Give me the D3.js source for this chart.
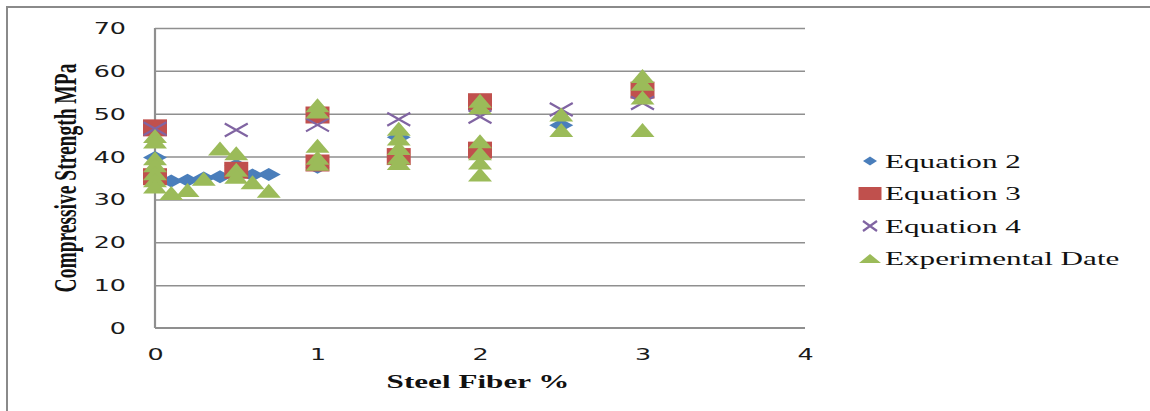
<!DOCTYPE html>
<html>
<head>
<meta charset="utf-8">
<script src="https://cdn.jsdelivr.net/npm/d3@7"></script>
<style>
  html, body { margin: 0; padding: 0; background: #fff; }
  svg { display: block; }
</style>
</head>
<body>
<svg id="chart" width="1150" height="411"></svg>
<script>
// Steel fiber content (%) and compressive strength (MPa) per series
const eq2X = [0, 0.1, 0.2, 0.3, 0.4, 0.5, 0.6, 0.7, 1, 1.5, 2, 2.5, 3];
const eq2Y = [39.8, 34.3, 34.5, 35, 35.3, 38, 35.7, 35.8, 37.5, 44.5, 41, 47.3, 54];

const eq3X = [0, 0, 0.5, 1, 1, 1.5, 2, 2, 3];
const eq3Y = [46.7, 35.3, 36.8, 49.7, 38.5, 40, 52.8, 41.5, 55.5];

const eq4X = [0, 0.5, 1, 1.5, 2, 2.5, 3];
const eq4Y = [46.5, 46.2, 47.4, 48.7, 49.3, 51, 52.5];

const expX = [0, 0, 0, 0, 0, 0, 0, 0.1, 0.2, 0.3, 0.4, 0.5, 0.5, 0.5, 0.6, 0.7,
              1, 1, 1, 1, 1, 1.5, 1.5, 1.5, 1.5, 1.5, 2, 2, 2, 2, 2, 2, 2.5, 2.5,
              3, 3, 3, 3];
const expY = [44.8, 43.5, 39.6, 38, 36.1, 34.5, 33, 31.5, 32.2, 34.8, 41.9, 40.8, 36.9, 35.3, 34, 32,
              52, 50.5, 42.5, 39.7, 38.3, 46.5, 44.2, 42, 39.8, 38.5, 53, 51.5, 43.6, 40.8, 38.6, 35.8, 49.8, 46.2,
              58.8, 57, 53.8, 46.2];

const seriesNames = ["Equation 2", "Equation 3", "Equation 4", "Experimental Date"];
const xTicks = [0, 1, 2, 3, 4];
const yTicks = [0, 10, 20, 30, 40, 50, 60, 70];

// Layout
const plot = { left: 155, right: 805, top: 28, bottom: 328 };
const stretch = 1.64;           // horizontal widening applied to all text
const gridColor = "#8f8f8f";

const svg = d3.select("#chart");
svg.append("rect").attr("width", 1150).attr("height", 411).attr("fill", "#fff");

// outer frame (top and left edges)
svg.append("path")
  .attr("d", "M7,411 V7 H1150")
  .attr("fill", "none").attr("stroke", "#8a8a8a").attr("stroke-width", 2);

const x = d3.scaleLinear().domain([0, 4]).range([plot.left, plot.right]);
const y = d3.scaleLinear().domain([0, 70]).range([plot.bottom, plot.top]);

// horizontal gridlines
svg.append("g")
  .attr("transform", `translate(${plot.left},0)`)
  .call(d3.axisLeft(y).tickValues(yTicks.filter(t => t > 0))
        .tickSize(-(plot.right - plot.left)).tickFormat(""))
  .call(g => g.select(".domain").remove())
  .call(g => g.selectAll("line").attr("stroke", gridColor).attr("stroke-width", 1.5));

const tickFont = sel => sel
  .attr("fill", "#1a1a1a")
  .style("font-family", "'DejaVu Sans', sans-serif")
  .style("font-size", "15.5px");

// y axis labels
svg.append("g")
  .attr("transform", `translate(${plot.left},0)`)
  .call(d3.axisLeft(y).tickValues(yTicks).tickFormat(d3.format("d")).tickSize(0))
  .call(g => g.select(".domain").remove())
  .call(g => g.selectAll("text")
    .attr("x", null).attr("dy", null)
    .attr("text-anchor", "end")
    .attr("dominant-baseline", "central")
    .attr("transform", `translate(-29,0) scale(${stretch},1)`)
    .call(tickFont));

// x axis labels
svg.append("g")
  .attr("transform", `translate(0,${plot.bottom})`)
  .call(d3.axisBottom(x).tickValues(xTicks).tickFormat(d3.format("d")).tickSize(0))
  .call(g => g.select(".domain").remove())
  .call(g => g.selectAll("text")
    .attr("y", null).attr("dy", null)
    .attr("text-anchor", "middle")
    .attr("dominant-baseline", "central")
    .attr("transform", `translate(0,26) scale(${stretch},1)`)
    .call(tickFont));

// axis lines
svg.append("line")
  .attr("x1", plot.left).attr("x2", plot.left)
  .attr("y1", plot.top).attr("y2", plot.bottom)
  .attr("stroke", gridColor).attr("stroke-width", 2.2);
svg.append("line")
  .attr("x1", plot.left).attr("x2", plot.right)
  .attr("y1", plot.bottom).attr("y2", plot.bottom)
  .attr("stroke", gridColor).attr("stroke-width", 2.2);

// axis titles
svg.append("text")
  .attr("transform", `translate(76,178) scale(${stretch},1) rotate(-90)`)
  .attr("text-anchor", "middle")
  .attr("fill", "#111")
  .style("font-family", "'Liberation Serif', 'Times New Roman', serif")
  .style("font-weight", "bold")
  .style("font-size", "19.5px")
  .text("Compressive Strength MPa");

svg.append("text")
  .attr("transform", `translate(${(plot.left + plot.right) / 2 - 2},388) scale(${stretch},1)`)
  .attr("text-anchor", "middle")
  .attr("fill", "#111")
  .style("font-family", "'Liberation Serif', 'Times New Roman', serif")
  .style("font-weight", "bold")
  .style("font-size", "19px")
  .text("Steel Fiber %");

// marker shapes sized by width / height, centred on (0,0)
const shapes = {
  diamond: (w, h) => `M0,${-h/2} L${w/2},0 L0,${h/2} L${-w/2},0 Z`,
  square: (w, h) => `M${-w/2},${-h/2} H${w/2} V${h/2} H${-w/2} Z`,
  triangle: (w, h) => `M0,${-h/2} L${w/2},${h/2} L${-w/2},${h/2} Z`,
  cross: (w, h) => `M${-w/2},${-h/2} L${w/2},${h/2} M${w/2},${-h/2} L${-w/2},${h/2}`
};

const series = [
  { name: seriesNames[0], xs: eq2X, ys: eq2Y, shape: "diamond", color: "#4a7ebb", w: 24, h: 13, lw: 14, lh: 9 },
  { name: seriesNames[1], xs: eq3X, ys: eq3Y, shape: "square", color: "#c0504d", w: 24, h: 17, lw: 23, lh: 13 },
  { name: seriesNames[2], xs: eq4X, ys: eq4Y, shape: "cross", color: "#8064a2", w: 23, h: 13, lw: 14, lh: 10 },
  { name: seriesNames[3], xs: expX, ys: expY, shape: "triangle", color: "#9bbb59", w: 24, h: 14, lw: 22, lh: 9 }
];

function styleMark(sel, s) {
  if (s.shape === "cross") {
    sel.attr("fill", "none").attr("stroke", s.color).attr("stroke-width", 2.2);
  } else {
    sel.attr("fill", s.color).attr("stroke", "none");
  }
}

series.forEach(s => {
  const pts = s.xs.map((v, i) => [v, s.ys[i]]);
  svg.append("g").selectAll("path")
    .data(pts)
    .join("path")
    .attr("d", shapes[s.shape](s.w, s.h))
    .attr("transform", d => `translate(${x(d[0])},${y(d[1])})`)
    .call(sel => styleMark(sel, s));
});

// legend
const legendRows = [161, 193.5, 226, 258.5];
const legend = svg.append("g");
series.forEach((s, i) => {
  const row = legend.append("g").attr("transform", `translate(0,${legendRows[i]})`);
  row.append("path")
    .attr("d", shapes[s.shape](s.lw, s.lh))
    .attr("transform", "translate(870,0)")
    .call(sel => styleMark(sel, s));
  row.append("text")
    .attr("transform", `translate(885,6.5) scale(${stretch},1)`)
    .attr("fill", "#111")
    .style("font-family", "'Liberation Serif', 'Times New Roman', serif")
    .style("font-size", "19px")
    .text(s.name);
});
</script>
</body>
</html>
